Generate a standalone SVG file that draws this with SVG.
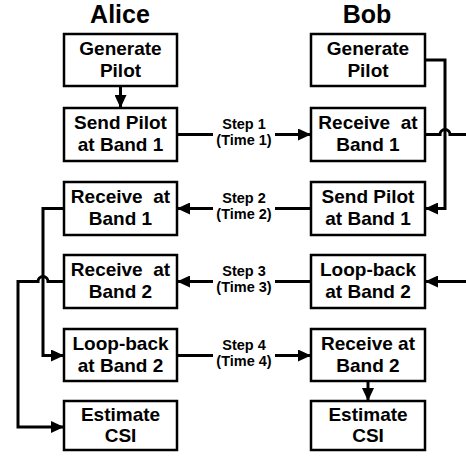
<svg xmlns="http://www.w3.org/2000/svg" width="466" height="456" viewBox="0 0 466 456">
<style>
.box{fill:#fff;stroke:#000;stroke-width:2.5}
.t{font-family:"Liberation Sans",Arial,sans-serif;font-weight:bold;font-size:19px;text-anchor:middle;fill:#000}
.title{font-family:"Liberation Sans",Arial,sans-serif;font-weight:bold;font-size:25px;text-anchor:middle;fill:#000}
.s{font-family:"Liberation Sans",Arial,sans-serif;font-weight:bold;font-size:14.5px;text-anchor:middle;fill:#000}
.c{fill:none;stroke:#000;stroke-width:3}
</style>
<defs>
<marker id="ah" markerUnits="userSpaceOnUse" markerWidth="13" markerHeight="12" refX="13" refY="6" orient="auto">
<path d="M0,0 L13,6 L0,12 z" fill="#000"/>
</marker>
</defs>
<text class="title" x="120" y="23">Alice</text>
<text class="title" x="367" y="23">Bob</text>
<g id="connectors">
<path class="c" d="M120.5,86 V108" marker-end="url(#ah)"/>
<path class="c" d="M177,134.5 H213"/>
<path class="c" d="M275,134.5 H311" marker-end="url(#ah)"/>
<path class="c" d="M311,208.5 H275"/>
<path class="c" d="M213,208.5 H177" marker-end="url(#ah)"/>
<path class="c" d="M466,281.5 H425" marker-end="url(#ah)"/>
<path class="c" d="M311,281.5 H275"/>
<path class="c" d="M213,281.5 H177" marker-end="url(#ah)"/>
<path class="c" d="M177,355.5 H213"/>
<path class="c" d="M275,355.5 H311" marker-end="url(#ah)"/>
<path class="c" d="M368,381 V401" marker-end="url(#ah)"/>
<path class="c" d="M425,60 H445 V208.5 H425" marker-end="url(#ah)"/>
<path class="c" d="M425,134.5 H440 A5,5 0 0 1 450,134.5 H466"/>
<path class="c" d="M64,208.5 H43 V355.5 H64" marker-end="url(#ah)"/>
<path class="c" d="M64,281.5 H48 A5,5 0 0 0 38,281.5 H18 V427 H64" marker-end="url(#ah)"/>
<text class="s" x="244" y="129">Step 1</text>
<text class="s" x="244" y="145">(Time 1)</text>
<text class="s" x="244" y="203">Step 2</text>
<text class="s" x="244" y="219">(Time 2)</text>
<text class="s" x="244" y="276">Step 3</text>
<text class="s" x="244" y="292">(Time 3)</text>
<text class="s" x="244" y="350">Step 4</text>
<text class="s" x="244" y="366">(Time 4)</text>
</g>
<g id="a1"><rect class="box" x="64" y="34" width="113" height="52"/><text class="t" x="120.5" y="55">Generate</text><text class="t" x="120.5" y="77">Pilot</text></g>
<g id="a2"><rect class="box" x="64" y="108" width="113" height="53"/><text class="t" x="120.5" y="129">Send Pilot</text><text class="t" x="120.5" y="151">at Band 1</text></g>
<g id="a3"><rect class="box" x="64" y="182" width="113" height="53"/><text class="t" x="120.5" y="203" xml:space="preserve">Receive  at</text><text class="t" x="120.5" y="225">Band 1</text></g>
<g id="a4"><rect class="box" x="64" y="255" width="113" height="53"/><text class="t" x="120.5" y="276" xml:space="preserve">Receive  at</text><text class="t" x="120.5" y="298">Band 2</text></g>
<g id="a5"><rect class="box" x="64" y="329" width="113" height="52"/><text class="t" x="120.5" y="350">Loop-back</text><text class="t" x="120.5" y="372">at Band 2</text></g>
<g id="a6"><rect class="box" x="64" y="401" width="113" height="49"/><text class="t" x="120.5" y="421">Estimate</text><text class="t" x="120.5" y="442">CSI</text></g>
<g id="b1"><rect class="box" x="311" y="34" width="114" height="52"/><text class="t" x="368" y="55">Generate</text><text class="t" x="368" y="77">Pilot</text></g>
<g id="b2"><rect class="box" x="311" y="108" width="114" height="53"/><text class="t" x="368" y="129" xml:space="preserve">Receive  at</text><text class="t" x="368" y="151">Band 1</text></g>
<g id="b3"><rect class="box" x="311" y="182" width="114" height="53"/><text class="t" x="368" y="203">Send Pilot</text><text class="t" x="368" y="225">at Band 1</text></g>
<g id="b4"><rect class="box" x="311" y="255" width="114" height="53"/><text class="t" x="368" y="276">Loop-back</text><text class="t" x="368" y="298">at Band 2</text></g>
<g id="b5"><rect class="box" x="311" y="329" width="114" height="52"/><text class="t" x="368" y="350">Receive at</text><text class="t" x="368" y="372">Band 2</text></g>
<g id="b6"><rect class="box" x="311" y="401" width="114" height="49"/><text class="t" x="368" y="421">Estimate</text><text class="t" x="368" y="442">CSI</text></g>
</svg>
